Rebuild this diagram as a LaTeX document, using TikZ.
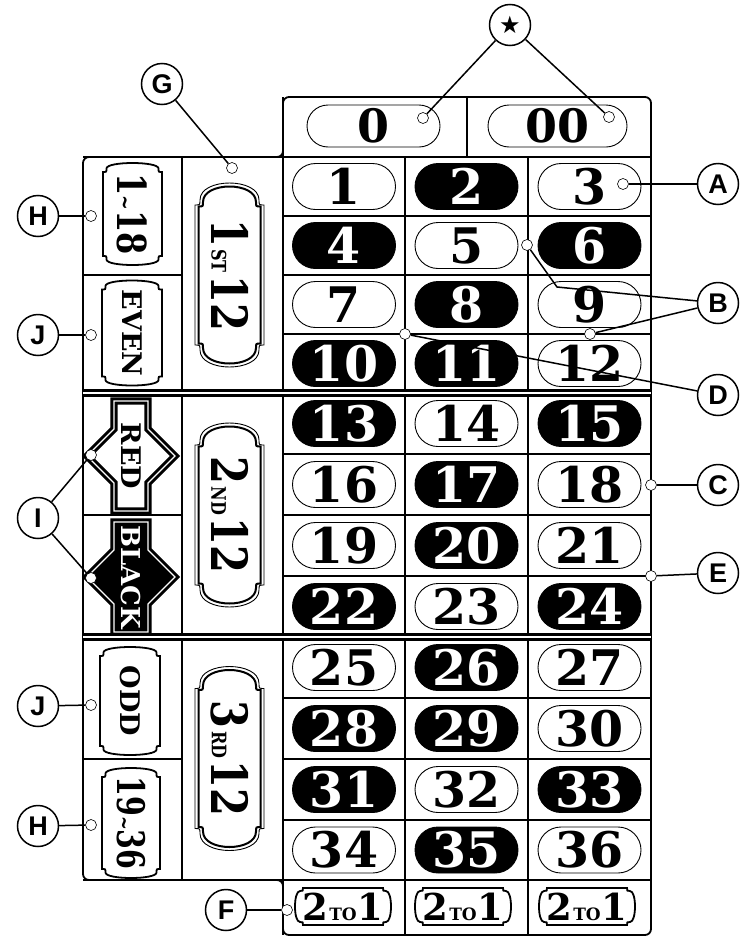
\documentclass[tikz,border=0pt]{standalone}
\usepackage{fontspec}
\usepackage{graphicx}
\setmainfont{DejaVu Serif}
\newfontfamily\calloutfont{Liberation Sans}
\newfontfamily\starfont{DejaVu Sans}
\newcommand\fs[1]{\fontsize{#1}{#1}\selectfont}
\newcommand\numfont{\bfseries\fs{49}}
\usetikzlibrary{calc}

% vertical plaque centred at origin: half width, half height, end depth, notch, style
\newcommand\plaque[5]{%
  \draw[#5] ({-#1},{-#2+#3}) .. controls ({-#1+#4},{-#2+#3}) .. ({-#1+#4},{-#2+#3-#4})
    .. controls ({-#1+#4},{-#2-(#3-#4)/3}) and ({#1-#4},{-#2-(#3-#4)/3}) .. ({#1-#4},{-#2+#3-#4})
    .. controls ({#1-#4},{-#2+#3}) .. ({#1},{-#2+#3})
    -- ({#1},{#2-#3})
    .. controls ({#1-#4},{#2-#3}) .. ({#1-#4},{#2-#3+#4})
    .. controls ({#1-#4},{#2+(#3-#4)/3}) and ({-#1+#4},{#2+(#3-#4)/3}) .. ({-#1+#4},{#2-#3+#4})
    .. controls ({-#1+#4},{#2-#3}) .. ({-#1},{#2-#3})
    -- cycle;}
% red / black emblem centred at origin
\newcommand\gem[1]{%
  \draw[#1] (-17,-55) -- (17,-55) -- (17,-27) -- (44,0) -- (17,27) -- (17,55)
    -- (-17,55) -- (-17,27) -- (-44,0) -- (-17,-27) -- cycle;}

\tikzset{
  frame/.style={line width=1.8pt, line join=round},
  gridline/.style={line width=1.4pt},
  secline/.style={line width=3.4pt, double=white, double distance=1.3pt},
  pill/.style={draw, line width=0.9pt, rounded corners=23pt, minimum width=103pt,
    minimum height=46pt, inner sep=0pt, font=\numfont},
  callout/.style={circle, draw, line width=1.5pt, minimum size=41pt, inner sep=0pt,
    fill=white, font=\calloutfont\bfseries\fs{27}},
  dot/.style={circle, draw, line width=0.6pt, fill=white, minimum size=11pt, inner sep=0pt},
  leader/.style={line width=1.5pt},
  vlabel/.style={rotate=-90, inner sep=0pt, font=\bfseries},
  plaqueout/.style={line width=0.9pt, fill=white},
  plaquein/.style={line width=2pt},
  ticket/.style={line width=1.8pt, fill=white},
  gemline/.style={line width=3pt, double=white, double distance=1.2pt},
}

\begin{document}
\begin{tikzpicture}[x=1pt,y=-1pt]
\useasboundingbox (0,0) rectangle (752,937);

% ---------- board frame and grid ----------
\draw[frame, rounded corners=6pt] (283,157) -- (283,97) -- (651,97) -- (651,935)
  -- (283,935) -- (283,880) -- (83,880) -- (83,157) -- cycle;
\draw[gridline] (83,157) -- (651,157);
\draw[gridline] (283,97) -- (283,935);
\draw[gridline] (467,97) -- (467,157);
\draw[gridline] (405,157) -- (405,935);
\draw[gridline] (528,157) -- (528,935);
\draw[gridline] (182,157) -- (182,880);
\foreach \yy in {216,275,334,454,515,576,698,759,820}
  \draw[gridline] (283,\yy) -- (651,\yy);
\draw[gridline] (83,880) -- (651,880);
\foreach \yy in {275,515,759}
  \draw[gridline] (83,\yy) -- (182,\yy);
\draw[secline] (83,393) -- (651,393);
\draw[secline] (83,637) -- (651,637);

% ---------- zero pills ----------
\node[pill, fill=white, minimum width=133pt, minimum height=42pt, rounded corners=21pt,
  font=\bfseries\fs{46}] (z0) at (373.5,126) {0};
\node[pill, fill=white, minimum width=139pt, minimum height=42pt, rounded corners=21pt,
  font=\bfseries\fs{46}] (z00) at (557.5,126) {00};

% ---------- number pills ----------
\foreach \n/\x/\y/\f/\t in {
 1/344/186.5/white/black, 2/466.5/186.5/black/white, 3/589.5/186.5/white/black,
 4/344/245.5/black/white, 5/466.5/245.5/white/black, 6/589.5/245.5/black/white,
 7/344/304.5/white/black, 8/466.5/304.5/black/white, 9/589.5/304.5/white/black,
 10/344/363.5/black/white, 11/466.5/363.5/black/white, 12/589.5/363.5/white/black,
 13/344/423.5/black/white, 14/466.5/423.5/white/black, 15/589.5/423.5/black/white,
 16/344/484.5/white/black, 17/466.5/484.5/black/white, 18/589.5/484.5/white/black,
 19/344/545.5/white/black, 20/466.5/545.5/black/white, 21/589.5/545.5/white/black,
 22/344/606.5/black/white, 23/466.5/606.5/white/black, 24/589.5/606.5/black/white,
 25/344/667.5/white/black, 26/466.5/667.5/black/white, 27/589.5/667.5/white/black,
 28/344/728.5/black/white, 29/466.5/728.5/black/white, 30/589.5/728.5/white/black,
 31/344/789.5/black/white, 32/466.5/789.5/white/black, 33/589.5/789.5/black/white,
 34/344/850/white/black, 35/466.5/850/black/white, 36/589.5/850/white/black}
  \node[pill, fill=\f, text=\t] (n\n) at (\x,\y) {\n};

% ---------- 2 to 1 ----------
\foreach \i/\x in {1/343, 2/463, 3/587} {
  \begin{scope}[shift={(\x,906.5)}, rotate=90]
    \plaque{18.5}{48}{8}{3}{ticket}
  \end{scope}
  \node[inner sep=0pt, font=\bfseries] (t\i) at (\x,907)
    {\fs{37}2\kern1pt\fs{17}TO\kern1pt\fs{37}1};
}

% ---------- dozens ----------
\foreach \i/\y/\s in {1/275/ST, 2/515/ND, 3/758.5/RD} {
  \begin{scope}[shift={(229.5,\y)}]
    \plaque{34.5}{92}{22}{5}{plaqueout}
    \plaque{31}{88.5}{20}{4.5}{plaquein}
  \end{scope}
}
\node[vlabel] (d1) at (230,275) {\scalebox{0.8}[1]{\fs{50}1\kern3pt\fs{20}ST\kern3pt\fs{50}12}};
\node[vlabel] (d2) at (230,515) {\scalebox{0.8}[1]{\fs{50}2\kern3pt\fs{20}ND\kern3pt\fs{50}12}};
\node[vlabel] (d3) at (230,758.5) {\scalebox{0.8}[1]{\fs{50}3\kern3pt\fs{20}RD\kern3pt\fs{50}12}};

% ---------- outside bets ----------
\begin{scope}[shift={(132.5,214)}] \plaque{29.5}{51}{9}{3.5}{ticket} \end{scope}
\node[vlabel] (lo) at (132.5,214) {\scalebox{0.8}[1]{\fs{40}1\fs{22}\textasciitilde\fs{40}18}};
\begin{scope}[shift={(132,333)}] \plaque{30}{52.5}{9}{3.5}{ticket} \end{scope}
\node[vlabel] (ev) at (132,333) {\fs{27}EVEN};
\begin{scope}[shift={(131,456)}] \gem{gemline, fill=white} \end{scope}
\node[vlabel] (rd) at (131,456) {\fs{27}RED};
\begin{scope}[shift={(131,577)}] \gem{gemline, fill=black} \end{scope}
\node[vlabel, text=white] (bk) at (131,577) {\fs{26}BLACK};
\begin{scope}[shift={(130,701)}] \plaque{30}{54}{9}{3.5}{ticket} \end{scope}
\node[vlabel] (od) at (130,701) {\fs{27}ODD};
\begin{scope}[shift={(131,823)}] \plaque{29}{55}{9}{3.5}{ticket} \end{scope}
\node[vlabel] (hi) at (131,823) {\scalebox{0.75}[1]{\fs{38}19\fs{22}\textasciitilde\fs{38}36}};

% ---------- attachment dots ----------
\node[dot] (s0) at (423,118) {};
\node[dot] (s00) at (609,117) {};
\node[dot] (sA) at (623,184) {};
\node[dot] (sB1) at (527,245) {};
\node[dot] (sB2) at (590,334) {};
\node[dot] (sD) at (405,334) {};
\node[dot] (sC) at (651,485) {};
\node[dot] (sE) at (651,576) {};
\node[dot] (sG) at (232,168) {};
\node[dot] (sH1) at (91,216) {};
\node[dot] (sJ1) at (91,335) {};
\node[dot] (sI1) at (91,455) {};
\node[dot] (sI2) at (91,578) {};
\node[dot] (sJ2) at (91,705) {};
\node[dot] (sH2) at (91,825) {};
\node[dot] (sF) at (287,910) {};
\coordinate (bend) at (557,287);

% ---------- callouts ----------
\node[callout, font=\starfont\fs{24}] (star) at (510,25) {★};
\node[callout] (A) at (718,184) {A};
\node[callout] (B) at (718,303) {B};
\node[callout] (D) at (718,395) {D};
\node[callout] (C) at (718,485) {C};
\node[callout] (E) at (718,573) {E};
\node[callout] (G) at (162,84) {G};
\node[callout] (H1) at (38,216) {H};
\node[callout] (J1) at (38,335) {J};
\node[callout] (I) at (38,518) {I};
\node[callout] (J2) at (38,706) {J};
\node[callout] (H2) at (38,826) {H};
\node[callout] (F) at (226,910) {F};

\draw[leader] (star) -- (s0);
\draw[leader] (star) -- (s00);
\draw[leader] (A) -- (sA);
\draw[leader] (B) -- (bend) -- (sB1);
\draw[leader] (B) -- (sB2);
\draw[leader] (D) -- (sD);
\draw[leader] (C) -- (sC);
\draw[leader] (E) -- (sE);
\draw[leader] (G) -- (sG);
\draw[leader] (H1) -- (sH1);
\draw[leader] (J1) -- (sJ1);
\draw[leader] (I) -- (sI1);
\draw[leader] (I) -- (sI2);
\draw[leader] (J2) -- (sJ2);
\draw[leader] (H2) -- (sH2);
\draw[leader] (F) -- (sF);
\end{tikzpicture}
\end{document}
